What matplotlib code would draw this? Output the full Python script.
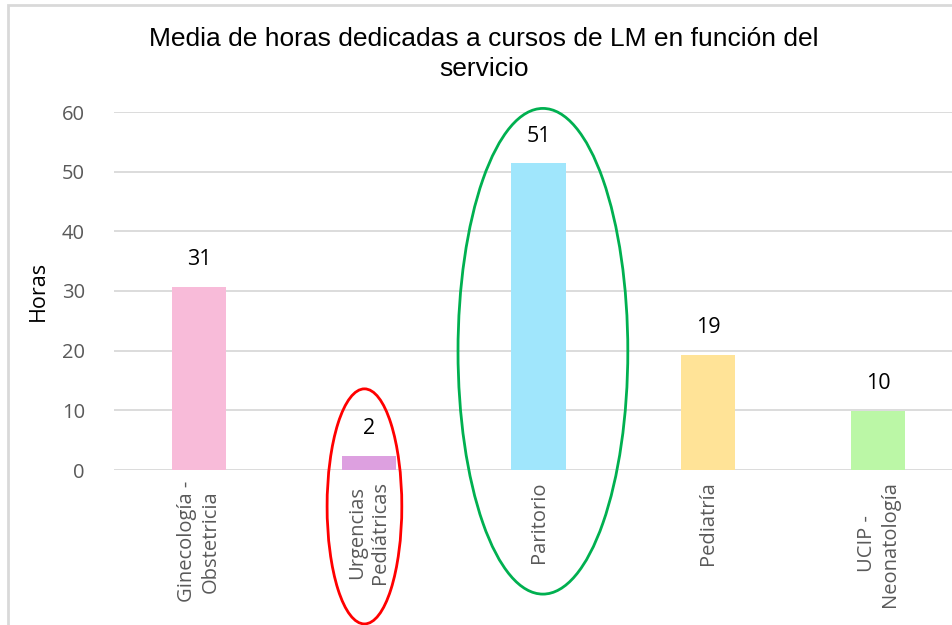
import matplotlib
matplotlib.use("Agg")
import matplotlib.pyplot as plt
from matplotlib.patches import Ellipse, Rectangle

categories = ["Ginecología -\nObstetricia", "Urgencias\nPediátricas", "Paritorio", "Pediatría", "UCIP -\nNeonatología"]
values = [30.7, 2.4, 51.4, 19.3, 9.9]
colors = ["#F8BBD9", "#DDA0E0", "#A0E6FC", "#FFE397", "#BBF7A6"]
yticks = [0, 10, 20, 30, 40, 50, 60]
title = "Media de horas dedicadas a cursos de LM en función del\nservicio"
ylabel = "Horas"

W, H = 952, 625
fig = plt.figure(figsize=(W / 100, H / 100), dpi=100)

# axes: x from 114 to 963 px, y from 112 (60) to 470 (0)
left, right = 114, 963
top, bottom = 112, 470
ax = fig.add_axes([left / W, 1 - bottom / H, (right - left) / W, (bottom - top) / H])

x = list(range(len(categories)))
ax.bar(x, values, width=0.32, color=colors, zorder=3)
ax.set_xlim(-0.5, len(categories) - 0.5)
ax.set_ylim(0, 60)
ax.set_yticks(yticks)
ax.yaxis.grid(True, color="#D9D9D9", linewidth=1.3, zorder=0)
for s in ax.spines.values():
    s.set_visible(False)
ax.tick_params(axis="both", length=0)
ax.tick_params(axis="y", pad=21, labelsize=14.5, labelcolor="#595959")
for lab in ax.get_yticklabels():
    lab.set_fontfamily("Open Sans")

ax.set_xticks(x)
ax.set_xticklabels(categories, rotation=90, fontsize=14.5, color="#595959",
                   family="Open Sans", ha="center", va="top", multialignment="center")
ax.tick_params(axis="x", pad=8)

for xi, v in zip(x, values):
    ax.annotate(f"{v:.0f}", (xi, v), xytext=(0, 12), textcoords="offset points",
                ha="center", va="bottom", fontsize=15.5, color="black", family="Open Sans")

ax.set_ylabel(ylabel, fontsize=15.5, color="black", family="Open Sans", labelpad=9)

# highlight ellipses
ax.add_patch(Ellipse((0.975, -6.1), 0.44, 39.4, fill=False, edgecolor="#FF0000",
                     linewidth=2, clip_on=False, zorder=5))
ax.add_patch(Ellipse((2.026, 19.9), 1.0, 81.4, fill=False, edgecolor="#00B050",
                     linewidth=2, clip_on=False, zorder=5))

fig.text(484 / W, 1 - 27 / H, title, ha="center", va="top", fontsize=19,
         family="Liberation Sans", linespacing=1.3)

# chart border (partially visible)
fig.patches.append(Rectangle((8 / W, -0.1), 1.2, 1 - 5 / H + 0.1, transform=fig.transFigure,
                             fill=False, edgecolor="#D9D9D9", linewidth=2))

fig.savefig("out.png", dpi=100)
